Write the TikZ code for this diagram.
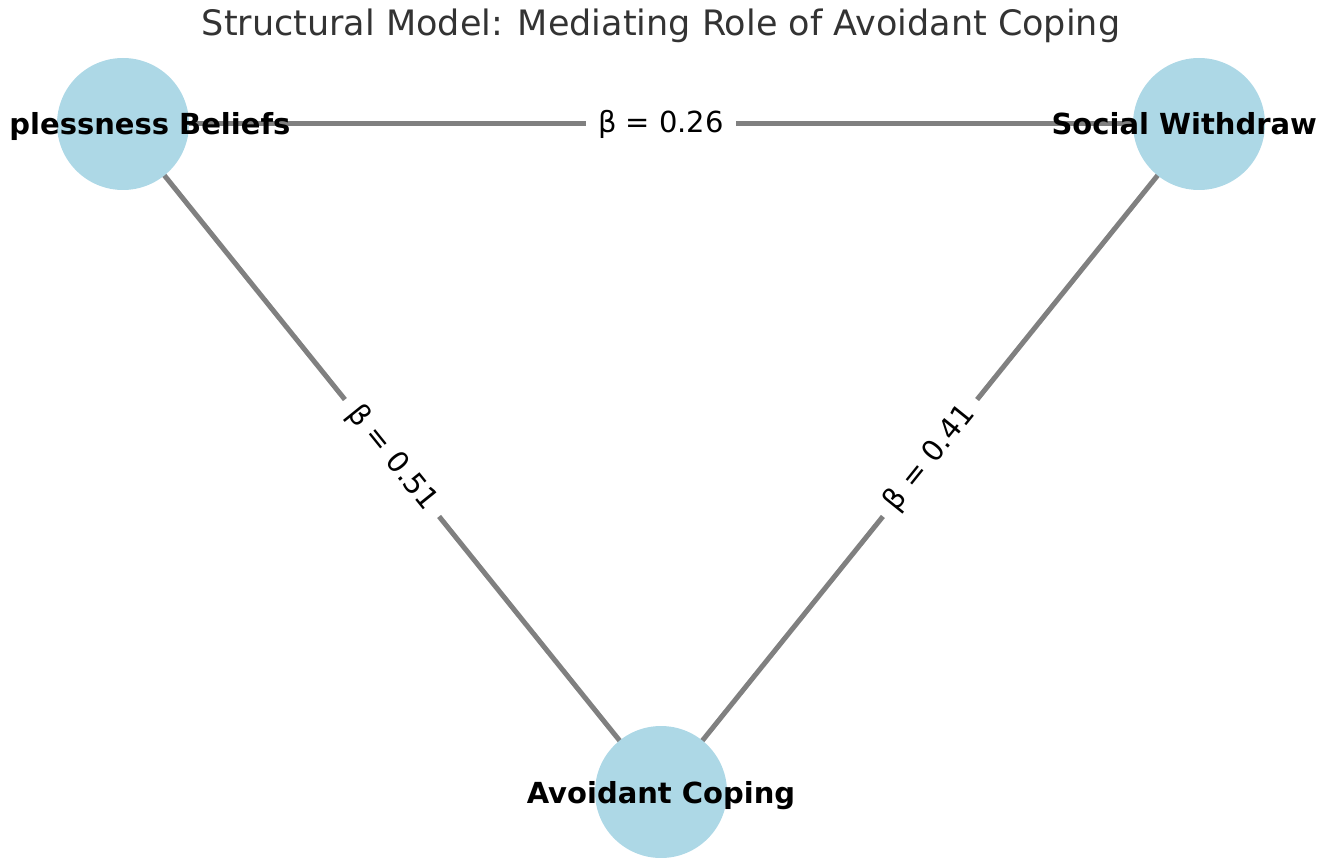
\documentclass[tikz,border=0pt]{standalone}
\usepackage{fontspec}
\setmainfont{DejaVu Sans}
\usetikzlibrary{backgrounds}
\definecolor{nodeblue}{HTML}{ADD8E6}
\definecolor{edgegray}{HTML}{808080}
\definecolor{titlegray}{HTML}{333333}
\begin{document}
\begin{tikzpicture}[x=1pt,y=-1pt,
  vertex/.style={circle,fill=nodeblue,minimum size=132pt,inner sep=0pt},
  vlabel/.style={anchor=base,font=\fontsize{29}{35}\selectfont\bfseries,text=black,inner sep=0pt},
  edge/.style={draw=edgegray,line width=5pt},
  elabel/.style={fill=white,font=\fontsize{29}{35}\selectfont,text=black,inner xsep=12pt,inner ysep=4pt,sloped}]
\useasboundingbox (0,0) rectangle (1329,858);
% title
\node[anchor=base,font=\fontsize{35}{41}\selectfont,text=titlegray,inner sep=0pt] (title) at (661,36) {Structural Model: Mediating Role of Avoidant Coping};
\begin{scope}
\clip (8,50) rectangle (1317,858);
% nodes
\node[vertex] (hb) at (123,124) {};
\node[vertex] (sw) at (1199,124) {};
\node[vertex] (ac) at (661,792) {};
% node labels
\node[vlabel] (hbT) at (123,135) {Helplessness Beliefs};
\node[vlabel] (swT) at (1199,135) {Social Withdrawal};
\node[vlabel] (acT) at (661,803) {Avoidant Coping};
\end{scope}
% edges
\begin{scope}[on background layer]
\draw[edge] (hb.center) -- node[elabel] (e1) {β = 0.26} (sw.center);
\draw[edge] (hb.center) -- node[elabel] (e2) {β = 0.51} (ac.center);
\draw[edge] (ac.center) -- node[elabel] (e3) {β = 0.41} (sw.center);
\end{scope}
\end{tikzpicture}
\end{document}
